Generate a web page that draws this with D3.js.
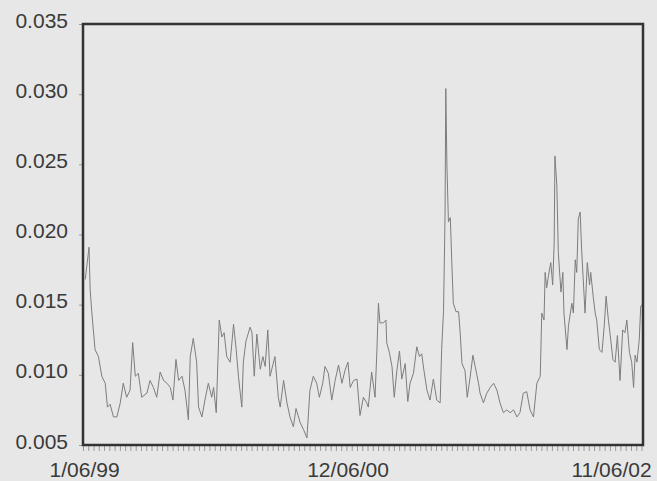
<!DOCTYPE html>
<html>
<head>
<meta charset="utf-8">
<script src="https://cdn.jsdelivr.net/npm/d3@7"></script>
<style>
  html, body { margin: 0; padding: 0; background: #e7e7e7; }
  svg { display: block; }
</style>
</head>
<body>
<svg id="chart" width="657" height="481"></svg>
<script>
// ---- data ----
const startDate = "1999-01-06";
const endDate = "2003-01-30";
const domainStart = "1999-01-03";
// days since 1999-01-06
const dayOffsets = [
  3,13,16,20,29,38,47,56,62,69,78,87,96,104,113,122,129,136,144,153,
  167,175,184,193,202,211,220,229,236,244,251,260,268,277,282,290,299,304,313,321,
  330,339,344,351,359,366,372,379,388,397,404,410,419,423,430,441,446,452,459,468,
  475,481,488,494,507,516,
  521,530,539,547,556,563,574,583,592,600,609,618,625,634,640,649,658,667,676,685,
  693,701,707,716,725,733,742,751,755,764,773,778,782,786,795,802,804,811,818,824,
  831,838,844,853,860,866,875,884,891,897,903,911,919,928,937,946,950,955,959,961,
  964,968,973,977,981,988,995,999,1004,1012,1018,1026,1033,1039,1048,
  1052,1061,1070,1079,1088,1097,1105,1114,1123,1132,1141,1150,1158,1167,1176,1185,1194,1203,1212,1216,
  1222,1225,1229,1234,1240,1245,1249,1251,1256,1260,1267,1272,1275,1283,1287,1296,1300,1305,1309,1313,
  1318,1322,1327,1331,1337,1343,1346,1353,1358,1362,1369,1376,1382,1387,1393,1398,1405,1411,1417,1424,
  1431,1437,1442,1449,1455,1460,1464,1469,1475,1479,1483
];
const values = [
  0.0168,0.0191,0.0161,0.0146,0.0118,0.0113,0.0099,0.0094,0.0077,0.0079,0.0070,0.0070,0.0080,0.0094,0.0084,0.0089,0.0123,0.0099,0.0101,0.0084,
  0.0087,0.0096,0.0091,0.0084,0.0102,0.0096,0.0094,0.0091,0.0082,0.0111,0.0096,0.0099,0.0089,0.0068,0.0113,0.0126,0.0109,0.0077,0.0070,0.0082,
  0.0094,0.0084,0.0091,0.0073,0.0139,0.0127,0.0130,0.0113,0.0109,0.0136,0.0118,0.0099,0.0077,0.0109,0.0124,0.0134,0.0130,0.0099,0.0129,0.0104,
  0.0113,0.0106,0.0132,0.0099,0.0113,0.0084,
  0.0077,0.0096,0.0080,0.0070,0.0063,0.0076,0.0066,0.0061,0.0055,0.0089,0.0099,0.0094,0.0084,0.0094,0.0106,0.0101,0.0082,0.0096,0.0107,0.0094,
  0.0103,0.0109,0.0091,0.0096,0.0097,0.0071,0.0084,0.0080,0.0077,0.0102,0.0084,0.0118,0.0151,0.0137,0.0137,0.0139,0.0123,0.0116,0.0106,0.0084,
  0.0103,0.0117,0.0097,0.0108,0.0081,0.0094,0.0101,0.0120,0.0113,0.0115,0.0103,0.0089,0.0082,0.0097,0.0082,0.0080,0.0118,0.0146,0.0213,0.0304,
  0.0249,0.0209,0.0212,0.0180,0.0151,0.0145,0.0145,0.0131,0.0108,0.0103,0.0084,0.0099,0.0114,0.0106,0.0094,
  0.0087,0.0080,0.0087,0.0091,0.0094,0.0089,0.0080,0.0073,0.0075,0.0073,0.0075,0.0070,0.0073,0.0087,0.0088,0.0075,0.0070,0.0094,0.0099,0.0144,
  0.0139,0.0173,0.0162,0.0171,0.0180,0.0164,0.0194,0.0256,0.0235,0.0187,0.0159,0.0173,0.0144,0.0118,0.0135,0.0151,0.0144,0.0182,0.0173,0.0211,
  0.0216,0.0189,0.0164,0.0144,0.0180,0.0164,0.0173,0.0155,0.0144,0.0139,0.0118,0.0116,0.0135,0.0156,0.0139,0.0128,0.0111,0.0109,0.0128,0.0096,
  0.0132,0.0130,0.0139,0.0116,0.0109,0.0091,0.0114,0.0109,0.0125,0.0149,0.0150
];
const yTickValues = [0.005, 0.010, 0.015, 0.020, 0.025, 0.030, 0.035];
const yTickLabels = ["0.005", "0.010", "0.015", "0.020", "0.025", "0.030", "0.035"];
const xTickDates = ["1999-01-06", "2000-12-06", "2002-11-06"];
const xTickLabels = ["1/06/99", "12/06/00", "11/06/02"];

// ---- chart ----
const svg = d3.select("#chart");
const W = 657, H = 481;
const margin = { left: 83, right: 14, top: 24, bottom: 36 };
const plotW = W - margin.left - margin.right;
const plotH = H - margin.top - margin.bottom;

svg.append("rect").attr("width", W).attr("height", H).attr("fill", "#e7e7e7");

const parse = d3.utcParse("%Y-%m-%d");
const t0 = parse(startDate);
const data = dayOffsets.map((d, i) => ({ date: d3.utcDay.offset(t0, d), value: values[i] }));

const x = d3.scaleUtc()
  .domain([parse(domainStart), parse(endDate)])
  .range([margin.left, margin.left + plotW]);
const y = d3.scaleLinear()
  .domain([0.005, 0.035])
  .range([margin.top + plotH, margin.top]);

const textColor = "#3a3a3a";
const font = "'Liberation Sans', Arial, sans-serif";

// minor ticks on x axis
const minor = d3.utcWeek.every(2).range(x.domain()[0], x.domain()[1]);
svg.append("g")
  .attr("transform", `translate(0,${margin.top + plotH})`)
  .call(d3.axisBottom(x).tickValues(minor).tickSize(6).tickFormat(""))
  .call(g => g.select(".domain").remove())
  .call(g => g.selectAll("line").attr("stroke", "#9a9a9a"));

// x labels
svg.append("g")
  .attr("transform", `translate(0,${margin.top + plotH})`)
  .call(d3.axisBottom(x).tickValues(xTickDates.map(parse)).tickSize(0)
    .tickFormat((d, i) => xTickLabels[i]))
  .call(g => g.select(".domain").remove())
  .call(g => g.selectAll("text")
    .attr("dy", null).attr("y", 32)
    .attr("font-size", 21).attr("font-family", font).attr("fill", textColor));

// y axis
svg.append("g")
  .attr("transform", `translate(${margin.left},0)`)
  .call(d3.axisLeft(y).tickValues(yTickValues).tickSize(4).tickPadding(11)
    .tickFormat((d, i) => yTickLabels[i]))
  .call(g => g.select(".domain").remove())
  .call(g => g.selectAll("line").attr("stroke", "#9a9a9a"))
  .call(g => g.selectAll("text")
    .attr("dy", "0.15em")
    .attr("font-size", 21).attr("font-family", font).attr("fill", textColor));

// line
const line = d3.line().x(d => x(d.date)).y(d => y(d.value));
svg.append("path")
  .datum(data)
  .attr("d", line)
  .attr("fill", "none")
  .attr("stroke", "#7d7d7d")
  .attr("stroke-width", 1)
  .attr("stroke-linejoin", "round");

// frame
svg.append("rect")
  .attr("x", margin.left).attr("y", margin.top)
  .attr("width", plotW).attr("height", plotH)
  .attr("fill", "none").attr("stroke", "#333")
  .attr("stroke-width", 2.5);
</script>
</body>
</html>
